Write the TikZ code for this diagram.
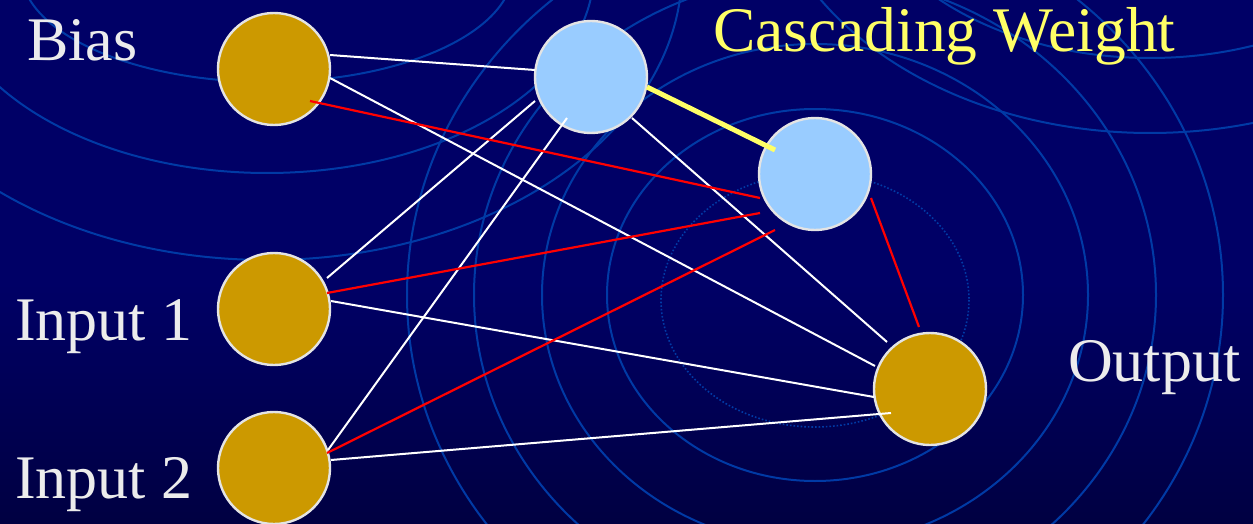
\documentclass[tikz,border=0pt]{standalone}
\usepackage{fontspec}
\setmainfont{Liberation Serif}
\newfontfamily\timesfont{Liberation Serif}
\usepackage{tikz}
\usetikzlibrary{calc}
\definecolor{bgtop}{RGB}{0,0,102}
\definecolor{bgbot}{RGB}{0,0,26}
\definecolor{ring}{RGB}{0,58,165}
\definecolor{gold}{RGB}{204,153,0}
\definecolor{sky}{RGB}{153,204,255}
\definecolor{rim}{RGB}{228,228,228}
\definecolor{labelgray}{RGB}{236,236,236}
\definecolor{cascade}{RGB}{255,255,102}
\pgfdeclareverticalshading{fondo}{100bp}{color(0bp)=(bgbot); color(48bp)=(bgtop); color(100bp)=(bgtop)}
\tikzset{
  unit/.style={circle,minimum size=112pt,inner sep=0pt,draw=rim,line width=2.4pt},
  inunit/.style={unit,fill=gold},
  hidunit/.style={unit,fill=sky},
  lbl/.style={anchor=base west,inner sep=0pt,text=labelgray,font=\timesfont\fontsize{62}{70}\selectfont},
  wire/.style={white,line width=2pt},
  redwire/.style={red,line width=2.2pt},
  cascwire/.style={cascade,line width=5pt},
  ringline/.style={ring,line width=2pt}
}

\begin{document}
\begin{tikzpicture}[x=1pt,y=-1pt]
\useasboundingbox (0,0) rectangle (1253,524);
\shade[shading=fondo] (0,0) rectangle (1253,524);
% fondo con anillos
\begin{scope}
\clip (0,0) rectangle (1253,524);
\foreach \r in {208,273,341,408}
  \draw[ringline] (815,295) ellipse [x radius=\r, y radius=\r-22];
\draw[ring,line width=1.6pt,dotted] (815,300) ellipse [x radius=154, y radius=127];
\draw[ringline] (267,-30) ellipse [x radius=246, y radius=112];
\draw[ringline] (267,-30) ellipse [x radius=327, y radius=203];
\draw[ringline] (267,-30) ellipse [x radius=415, y radius=290];
\draw[ringline] (1150,-150) ellipse [x radius=303, y radius=208];
\draw[ringline] (1150,-150) ellipse [x radius=388, y radius=283];
\end{scope}

\node[inunit] (bias) at (274,69) {};
\node[inunit] (in1) at (274,309) {};
\node[inunit] (in2) at (274,468) {};
\node[hidunit] (h1) at (591,77) {};
\node[hidunit] (h2) at (815,174) {};
\node[inunit] (out) at (930,389) {};

\node[lbl] (biaslbl) at (27,61) {Bias};
\node[lbl] (in1lbl) at (15,340) {Input 1};
\node[lbl] (in2lbl) at (15,498) {Input 2};
\node[lbl] (outlbl) at (1068,381) {Output};
\node[lbl,text=cascade,font=\timesfont\fontsize{63.5}{70}\selectfont] (casclbl) at (713,52) {Cascading Weight};

% conexiones normales
\draw[wire] ($(bias)+(56,-14)$) -- ($(h1)+(-56,-7)$);
\draw[wire] ($(bias)+(56,9)$) -- ($(out)+(-55,-23)$);
\draw[wire] ($(h1)+(41,41)$) -- ($(out)+(-43,-47)$);
\draw[wire] ($(in1)+(57,-8)$) -- ($(out)+(-56,8)$);
\draw[wire] ($(in2)+(57,-8)$) -- ($(out)+(-39,24)$);
\draw[wire] ($(in1)+(53,-31)$) -- ($(h1)+(-56,24)$);
\draw[wire] ($(in2)+(54,-18)$) -- ($(h1)+(-24,41)$);
% hacia la segunda unidad oculta
\draw[redwire] ($(bias)+(36,32)$) -- ($(h2)+(-55,24)$);
\draw[redwire] ($(in1)+(53,-16)$) -- ($(h2)+(-55,39)$);
\draw[redwire] ($(in2)+(53,-15)$) -- ($(h2)+(-40,56)$);
\draw[redwire] ($(h2)+(56,24)$) -- ($(out)+(-11,-62)$);
\draw[cascwire] ($(h1)+(56,10)$) -- ($(h2)+(-40,-24)$);
\end{tikzpicture}
\end{document}
